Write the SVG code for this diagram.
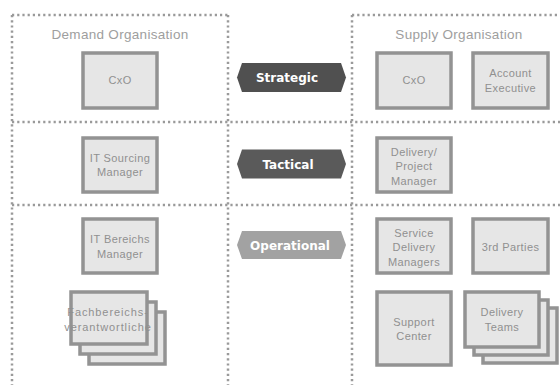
<svg xmlns="http://www.w3.org/2000/svg" width="560" height="385" viewBox="0 0 560 385">
<style>
.dot{stroke:#9a9a9a;stroke-width:2.5;stroke-dasharray:2.2 3;fill:none}
.box{fill:#e6e6e6;stroke:#939393;stroke-width:3.5}
.t{font-family:"Liberation Sans",Arial,sans-serif;font-size:11px;fill:#909090;text-anchor:middle;letter-spacing:0.4px}
.h{font-family:"Liberation Sans",Arial,sans-serif;font-size:13.5px;fill:#9e9e9e;text-anchor:middle;letter-spacing:0.3px}
.a{font-family:"DejaVu Sans","Liberation Sans",sans-serif;font-weight:bold;font-size:12px;fill:#ffffff;text-anchor:middle}
</style>
<rect width="560" height="385" fill="#ffffff"/>
<g id="lanes">
<line class="dot" x1="12" y1="15" x2="12" y2="385"/>
<line class="dot" x1="228" y1="15" x2="228" y2="385"/>
<line class="dot" x1="12" y1="15" x2="228" y2="15"/>
<line class="dot" x1="352" y1="15" x2="352" y2="385"/>
<line class="dot" x1="352" y1="15" x2="560" y2="15"/>
<line class="dot" x1="12" y1="122" x2="560" y2="122"/>
<line class="dot" x1="12" y1="205" x2="560" y2="205"/>
<text class="h" x="120" y="39">Demand Organisation</text>
<text class="h" x="459" y="39">Supply Organisation</text>
</g>
<g id="arrows">
<g id="strategic">
<polygon points="237,77.5 242,63 341,63 346,77.5 341,92 242,92" fill="#505050"/>
<text class="a" x="287" y="82">Strategic</text>
</g>
<g id="tactical">
<polygon points="237,164 242,149.5 341,149.5 346,164 341,178.5 242,178.5" fill="#5a5a5a"/>
<text class="a" x="288" y="168.5">Tactical</text>
</g>
<g id="operational">
<polygon points="237,245 242,231 341,231 346,245 341,259 242,259" fill="#a2a2a2"/>
<text class="a" x="290" y="249.5">Operational</text>
</g>
</g>
<g id="demand-cxo">
<rect class="box" x="83" y="53" width="74" height="55"/>
<text class="t" x="120" y="84">CxO</text>
</g>
<g id="supply-cxo">
<rect class="box" x="377" y="53" width="74" height="55"/>
<text class="t" x="414" y="84">CxO</text>
</g>
<g id="account-executive">
<rect class="box" x="473" y="53" width="75" height="55"/>
<text class="t" x="510.5" y="77">Account</text>
<text class="t" x="510.5" y="92">Executive</text>
</g>
<g id="it-sourcing-manager">
<rect class="box" x="83" y="138" width="74" height="54"/>
<text class="t" x="120" y="162">IT Sourcing</text>
<text class="t" x="120" y="176">Manager</text>
</g>
<g id="delivery-project-manager">
<rect class="box" x="377" y="138" width="74" height="54"/>
<text class="t" x="414" y="156">Delivery/</text>
<text class="t" x="414" y="170">Project</text>
<text class="t" x="414" y="185">Manager</text>
</g>
<g id="it-bereichs-manager">
<rect class="box" x="83" y="219" width="74" height="54"/>
<text class="t" x="120" y="243">IT Bereichs</text>
<text class="t" x="120" y="258">Manager</text>
</g>
<g id="fachbereichsverantwortliche">
<rect class="box" x="89" y="312" width="76" height="52"/>
<rect class="box" x="80" y="302" width="76" height="52"/>
<rect class="box" x="71" y="292" width="76" height="52"/>
<text class="t" x="108" y="316" style="letter-spacing:0.9px">Fachbereichs-</text>
<text class="t" x="108" y="331" style="letter-spacing:0.9px">verantwortliche</text>
</g>
<g id="service-delivery-managers">
<rect class="box" x="377" y="219" width="74" height="54"/>
<text class="t" x="414" y="237">Service</text>
<text class="t" x="414" y="251">Delivery</text>
<text class="t" x="414" y="266">Managers</text>
</g>
<g id="third-parties">
<rect class="box" x="473" y="219" width="75" height="54"/>
<text class="t" x="510.5" y="251">3rd Parties</text>
</g>
<g id="support-center">
<rect class="box" x="377" y="292" width="74" height="73"/>
<text class="t" x="414" y="326">Support</text>
<text class="t" x="414" y="340">Center</text>
</g>
<g id="delivery-teams">
<rect class="box" x="483" y="308" width="74" height="55"/>
<rect class="box" x="474" y="300" width="74" height="55"/>
<rect class="box" x="465" y="292" width="74" height="55"/>
<text class="t" x="502" y="316">Delivery</text>
<text class="t" x="502" y="331">Teams</text>
</g>
</svg>
